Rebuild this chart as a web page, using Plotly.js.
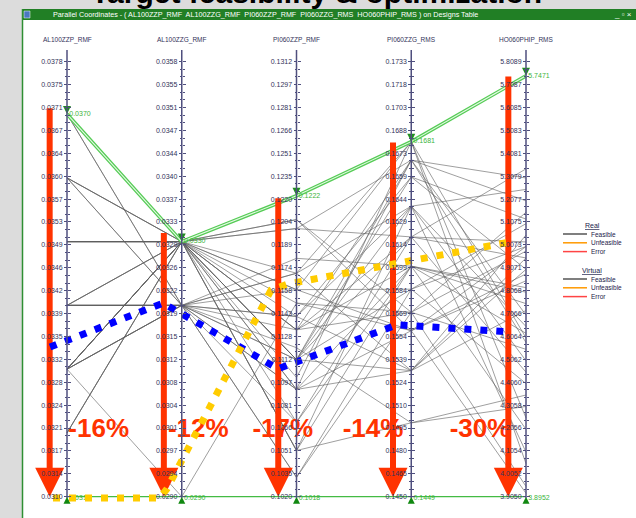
<!DOCTYPE html>
<html><head><meta charset="utf-8">
<script src="https://cdn.plot.ly/plotly-3.0.1.min.js"></script>
<style>html,body{margin:0;padding:0;background:#dedede;}#chart{width:636px;height:518px;}</style>
</head><body><div id="chart"></div>
<script>
// ---------------- data ----------------
const axisNames = ['AL100ZZP_RMF','AL100ZZG_RMF','PI060ZZP_RMF','PI060ZZG_RMS','HO060PHIP_RMS'];
const axisMin = [0.0310, 0.0290, 0.1020, 0.1450, 3.9050];
const axisMax = [0.037821, 0.035821, 0.1312, 0.1733, 5.8089];

// gray design lines (one entry per design, per axis)
const valAL100ZZP = [0.0370,0.0370,0.0360,0.0360,0.0360,0.0360,0.0360,0.0350,0.0350,0.0350,0.0350,0.0350,0.0350,0.0350,0.0350,0.0340,0.0340,0.0340,0.0340,0.0340,0.0340,0.0340,0.0340,0.0340,0.0340,0.0330,0.0330,0.0330,0.0330,0.0330,0.0330,0.0330,0.0330,0.0330,0.0330,0.0320,0.0320,0.0320,0.0330];
const valAL100ZZG = [0.0320,0.0320,0.0330,0.0330,0.0330,0.0320,0.0320,0.0330,0.0330,0.0330,0.0330,0.0330,0.0330,0.0330,0.0330,0.0320,0.0320,0.0320,0.0320,0.0320,0.0320,0.0320,0.0330,0.0330,0.0330,0.0330,0.0330,0.0330,0.0330,0.0330,0.0330,0.0320,0.0320,0.0320,0.0320,0.0330,0.0330,0.0330,0.0290];
const valPI060ZZP = [0.1092,0.1141,0.1200,0.1112,0.1051,0.1170,0.1033,0.1206,0.1159,0.1132,0.1112,0.1092,0.1070,0.1150,0.1051,0.1180,0.1132,0.1112,0.1092,0.1159,0.1033,0.1120,0.1170,0.1112,0.1141,0.1200,0.1132,0.1100,0.1051,0.1159,0.1092,0.1112,0.1170,0.1070,0.1141,0.1132,0.1112,0.1206,0.1150];
const valPI060ZZG = [0.1600,0.1532,0.1669,0.1585,0.1498,0.1639,0.1570,0.1558,0.1681,0.1619,0.1658,0.1532,0.1600,0.1570,0.1639,0.1600,0.1669,0.1619,0.1681,0.1558,0.1585,0.1498,0.1532,0.1639,0.1658,0.1619,0.1570,0.1669,0.1600,0.1585,0.1558,0.1532,0.1681,0.1619,0.1639,0.1600,0.1669,0.1570,0.1558];
const valHO060PHIP = [4.80,4.95,4.70,5.10,4.35,5.25,4.55,5.00,4.60,5.34,4.90,5.05,4.20,5.15,4.65,4.75,5.20,4.45,4.05,4.85,5.00,4.30,4.90,4.50,5.12,4.95,3.95,5.30,4.62,4.40,4.88,4.72,4.25,5.02,4.10,4.82,4.58,4.98,3.92];

// highlighted (selected) design and lower filter bound
const selectedVals = [0.0370, 0.0330, 0.1222, 0.1681, 5.7471];
const selectedLabels = ['0.0370','0.0330','0.1222','0.1681','5.7471'];
const lowerVals = [0.0310, 0.0290, 0.1018, 0.1449, 3.8952];
const lowerLabels = ['0.0310','0.0290','0.1018','0.1449','3.8952'];

// overlay annotations (x in axis index, y in fraction of axis height)
const pctLabels = ['-16%','-12%','-17%','-14%','-30%'];
const pctX = [0.276, 1.144, 1.880, 2.667, 3.599];
const pctY = [0.152, 0.152, 0.152, 0.152, 0.152];
const arrowX = [-0.151, 0.844, 1.841, 2.841, 3.846];
const arrowTop = [0.893, 0.606, 0.686, 0.814, 0.966];
const arrowTip = [0.0, 0.0, 0.0, 0.0, 0.0];
const blueX = [-0.148, 0.837, 1.839, 2.876, 3.843];
const blueY = [0.344, 0.445, 0.294, 0.395, 0.379];
const yellowX = [-0.122, 0.810, 0.871, 1.778, 1.926, 3.861];
const yellowY = [-0.003, -0.003, 0.018, 0.475, 0.489, 0.5855];

// legend
const legendGroups = ['Real','Virtual'];
const legendItems = ['Feasible','Unfeasible','Error'];
const legendColors = ['#555555','#ff9900','#ff4444'];

// ---------------- geometry ----------------
const W = 636, H = 518;
const axis0Px = 67, axisGapPx = 114.75;
const tickBottomPx = 496.7, tickTopPx = 61.7;
const unitPx = tickBottomPx - tickTopPx;
const xRange = [-axis0Px/axisGapPx, (W-axis0Px)/axisGapPx];
const yRange = [-(H-tickBottomPx)/unitPx, tickBottomPx/unitPx];
const axisLo = -0.003, axisHi = 1.027;
const px = p => p / W;
const py = p => 1 - p / H;
const FONT = 'Liberation Sans, Arial, sans-serif';
const axisColor = '#4f4f7e';
const labelColor = '#33335a';

const norm = (v, k) => (v - axisMin[k]) / (axisMax[k] - axisMin[k]);
const cols = [valAL100ZZP, valAL100ZZG, valPI060ZZP, valPI060ZZG, valHO060PHIP];

const traces = [];
// gray lines
const gx = [], gy = [];
for (let d = 0; d < cols[0].length; d++) {
  for (let k = 0; k < 5; k++) { gx.push(k); gy.push(norm(cols[k][d], k)); }
  gx.push(null); gy.push(null);
}
traces.push({x: gx, y: gy, mode: 'lines', line: {color: 'rgba(95,95,95,0.6)', width: 1}, hoverinfo: 'skip', showlegend: false});

const layout = {
  width: W, height: H, margin: {l: 0, r: 0, t: 0, b: 0, pad: 0},
  paper_bgcolor: '#dcdcdc', plot_bgcolor: 'rgba(0,0,0,0)', showlegend: false,
  xaxis: {range: xRange, visible: false, fixedrange: true, domain: [0, 1]},
  yaxis: {range: yRange, visible: false, fixedrange: true, domain: [0, 1]},
  shapes: [], annotations: []
};

for (let k = 0; k < 5; k++) {
  const span = axisMax[k] - axisMin[k];
  const rng = [axisMin[k] + yRange[0]*span, axisMin[k] + yRange[1]*span];
  const tv = Array.from({length: 20}, (_, i) => axisMin[k] + i*span/19);
  const mv = [];
  for (let i = 0; i < 19; i++) for (let j = 1; j <= 2; j++) mv.push(axisMin[k] + (i + j/3)*span/19);
  const pos = (k - xRange[0]) / (xRange[1] - xRange[0]);
  const base = {
    overlaying: 'y', anchor: 'free', position: pos, range: rng, fixedrange: true,
    tickmode: 'array', tickvals: tv, ticktext: tv.map(v => v.toFixed(4)),
    ticks: 'outside', ticklen: 3, tickwidth: 1, tickcolor: axisColor,
    tickfont: {size: 7, color: labelColor, family: FONT},
    showgrid: false, zeroline: false, showline: false,
    minor: {tickmode: 'array', tickvals: mv, ticks: 'outside', ticklen: 2, tickwidth: 1, tickcolor: axisColor, showgrid: false}
  };
  layout['yaxis' + (k+2)] = Object.assign({}, base, {side: 'left'});
  layout['yaxis' + (k+7)] = Object.assign({}, base, {side: 'right', showticklabels: false});
  traces.push({x: [k, k], y: [axisMin[k] + axisLo*span, axisMin[k] + axisHi*span], yaxis: 'y' + (k+2),
    mode: 'lines', line: {color: axisColor, width: 1.5}, hoverinfo: 'skip', showlegend: false});
  traces.push({x: [k, k], y: [axisMin[k], axisMax[k]], yaxis: 'y' + (k+7),
    mode: 'lines', line: {color: 'rgba(0,0,0,0)', width: 0}, hoverinfo: 'skip', showlegend: false});
  layout.annotations.push({x: k, xref: 'x', y: py(40), yref: 'paper', text: axisNames[k], showarrow: false,
    font: {size: 6.5, color: labelColor, family: FONT}, xanchor: 'center', yanchor: 'middle'});
}

const axIdx = [0,1,2,3,4];
// selected design (double green line)
const sy = selectedVals.map((v, k) => norm(v, k));
traces.push({x: axIdx, y: sy, mode: 'lines', line: {color: '#55cc55', width: 3.6}, hoverinfo: 'skip', showlegend: false});
traces.push({x: axIdx, y: sy, mode: 'lines', line: {color: '#e6f8e6', width: 1.1}, hoverinfo: 'skip', showlegend: false});
traces.push({x: axIdx, y: sy, mode: 'markers', marker: {symbol: 'arrow-down', size: 8, color: '#1f8f1f', line: {width: 0}}, cliponaxis: false, hoverinfo: 'skip', showlegend: false});
traces.push({x: axIdx.map(k => k + 0.02), y: sy, mode: 'text', text: selectedLabels, textposition: 'middle right',
  textfont: {size: 7, color: '#3cb43c', family: FONT}, cliponaxis: false, hoverinfo: 'skip', showlegend: false});

// lower bound line
const ly = lowerVals.map((v, k) => norm(v, k));
traces.push({x: [axIdx[0], axIdx[4] + 0.0], y: [ly[0], ly[0]], mode: 'lines', line: {color: '#44bb44', width: 1.3}, hoverinfo: 'skip', showlegend: false});
traces.push({x: axIdx, y: ly.map(() => ly[0]), mode: 'markers', marker: {symbol: 'arrow-up', size: 7, color: '#118811', line: {width: 0}}, cliponaxis: false, hoverinfo: 'skip', showlegend: false});
traces.push({x: axIdx.map(k => k + 0.02), y: ly.map(() => ly[0] - 0.004), mode: 'text', text: lowerLabels, textposition: 'middle right',
  textfont: {size: 7, color: '#3cb43c', family: FONT}, cliponaxis: false, hoverinfo: 'skip', showlegend: false});

// percentage labels
traces.push({x: pctX, y: pctY, mode: 'text', text: pctLabels, textposition: 'middle center',
  textfont: {size: 26, color: '#ff3300', family: FONT, weight: 'bold'}, cliponaxis: false, hoverinfo: 'skip', showlegend: false});

// red arrows
const ax = [], ay = [];
arrowX.forEach((x, i) => { ax.push(x, x, null); ay.push(arrowTop[i], arrowTip[i] + 0.04, null); });
traces.push({x: ax, y: ay, mode: 'lines', line: {color: '#ff3300', width: 6}, hoverinfo: 'skip', showlegend: false});
traces.push({x: arrowX, y: arrowTip, mode: 'markers', marker: {symbol: 'arrow-down', size: 29, color: '#ff3300', line: {width: 0}}, cliponaxis: false, hoverinfo: 'skip', showlegend: false});

// dotted overlay paths
traces.push({x: blueX, y: blueY, mode: 'lines', line: {color: '#0000ff', width: 7, dash: '7px,9px'}, hoverinfo: 'skip', showlegend: false});
traces.push({x: yellowX, y: yellowY, mode: 'lines', line: {color: '#ffcc00', width: 7, dash: '7px,9px'}, hoverinfo: 'skip', showlegend: false});

// window chrome
layout.shapes.push({type: 'rect', xref: 'paper', yref: 'paper', x0: px(22), x1: 1, y0: 0, y1: py(20), fillcolor: '#ffffff', line: {width: 0}, layer: 'below'});
layout.shapes.push({type: 'rect', xref: 'paper', yref: 'paper', x0: px(22), x1: 1, y0: py(20), y1: py(9), fillcolor: '#217f25', line: {width: 0}, layer: 'below'});
layout.shapes.push({type: 'line', xref: 'paper', yref: 'paper', x0: px(22.5), x1: px(22.5), y0: 0, y1: py(9), line: {color: '#2f8f33', width: 1.5}, layer: 'below'});
layout.shapes.push({type: 'rect', xref: 'paper', yref: 'paper', x0: px(24), x1: px(30), y0: py(18), y1: py(11), fillcolor: '#4a78c0', line: {color: '#ffffff', width: 0.5}, layer: 'below'});
layout.annotations.push({x: px(265), xref: 'paper', y: py(14.5), yref: 'paper', showarrow: false, xanchor: 'center', yanchor: 'middle',
  text: 'Parallel Coordinates - ( AL100ZZP_RMF  AL100ZZG_RMF  PI060ZZP_RMF  PI060ZZG_RMS  HO060PHIP_RMS ) on Designs Table',
  font: {size: 7.2, color: '#ffffff', family: FONT}});
layout.annotations.push({x: px(634), xref: 'paper', y: py(14.5), yref: 'paper', showarrow: false, xanchor: 'right', yanchor: 'middle',
  text: '_ ▫ ×', font: {size: 8, color: '#ffffff', family: FONT}});
layout.annotations.push({x: px(316), xref: 'paper', y: py(11), yref: 'paper', showarrow: false, xanchor: 'center', yanchor: 'bottom',
  text: 'Target feasibility & optimization', font: {size: 30, color: '#000000', family: FONT, weight: 'bold'}});

// legend
const legTop = [225, 270];
legendGroups.forEach((g, gi) => {
  layout.annotations.push({x: px(592), xref: 'paper', y: py(legTop[gi]), yref: 'paper', showarrow: false, xanchor: 'center', yanchor: 'middle',
    text: '<u>' + g + '</u>', font: {size: 7, color: '#22224a', family: FONT}});
  legendItems.forEach((it, ii) => {
    const yy = legTop[gi] + 9 + ii * 8.8;
    layout.shapes.push({type: 'line', xref: 'paper', yref: 'paper', x0: px(563), x1: px(587), y0: py(yy), y1: py(yy), line: {color: legendColors[ii], width: 1.5}});
    layout.annotations.push({x: px(589), xref: 'paper', y: py(yy), yref: 'paper', showarrow: false, xanchor: 'left', yanchor: 'middle',
      text: it, font: {size: 6.5, color: '#22224a', family: FONT}});
  });
});

Plotly.newPlot('chart', traces, layout, {staticPlot: true, displayModeBar: false});
</script></body></html>
